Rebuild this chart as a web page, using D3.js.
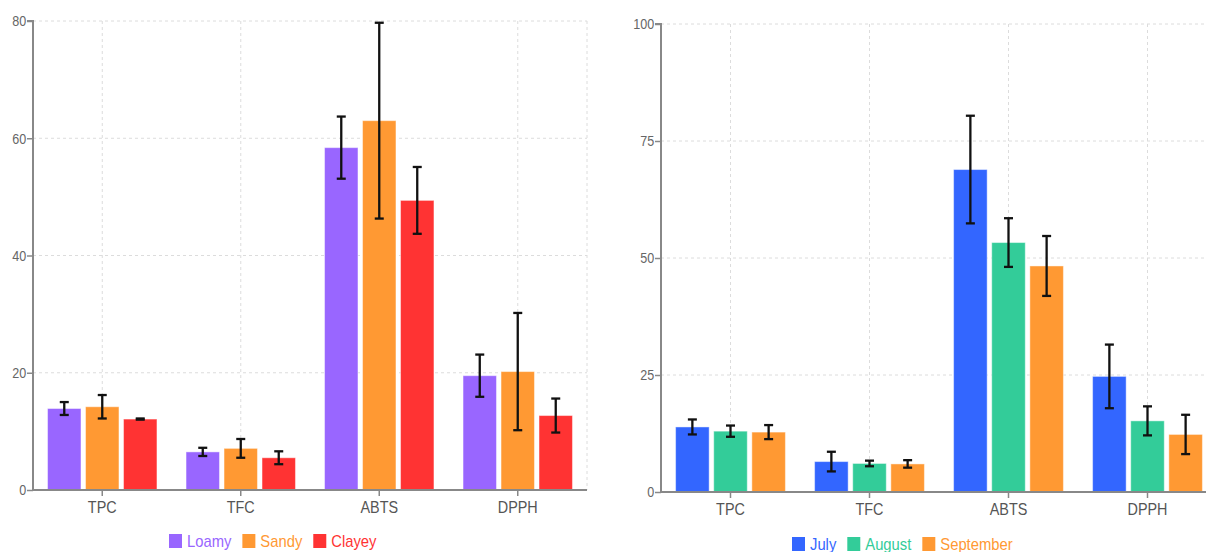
<!DOCTYPE html>
<html><head><meta charset="utf-8">
<script src="https://cdn.jsdelivr.net/npm/d3@7"></script>
<style>body{margin:0;background:#fff}svg{display:block;font-family:"Liberation Sans",Arial,sans-serif}</style>
</head><body><svg id="c" width="1206" height="552"></svg>
<script>
const categories = ["TPC","TFC","ABTS","DPPH"];

const soilSeries = ["Loamy","Sandy","Clayey"];
const soilColors = ["#9966ff","#ff9933","#ff3333"];
const loamyMean = [13.9, 6.5, 58.4, 19.5];
const loamyErr  = [1.1, 0.7, 5.3, 3.6];
const sandyMean = [14.2, 7.1, 63.0, 20.2];
const sandyErr  = [2.0, 1.6, 16.7, 10.0];
const clayeyMean = [12.1, 5.5, 49.4, 12.7];
const clayeyErr  = [0.1, 1.1, 5.7, 2.9];
const soilTicks = [0, 20, 40, 60, 80];

const monthSeries = ["July","August","September"];
const monthColors = ["#3366ff","#33cc99","#ff9933"];
const julyMean = [13.9, 6.5, 68.9, 24.7];
const julyErr  = [1.6, 2.1, 11.5, 6.8];
const augustMean = [13.0, 6.1, 53.3, 15.2];
const augustErr  = [1.2, 0.6, 5.2, 3.1];
const septemberMean = [12.8, 6.0, 48.3, 12.3];
const septemberErr  = [1.5, 0.8, 6.4, 4.2];
const monthTicks = [0, 25, 50, 75, 100];

const svg = d3.select("#c");

function drawChart(opt){
  const g = svg.append("g");
  const x0 = d3.scaleBand().domain(categories).range([opt.left, opt.right]).padding(0);
  const x1 = d3.scaleBand().domain(opt.series)
     .range([x0.bandwidth()*0.105, x0.bandwidth()*0.895]).paddingInner(0.12);
  const y = d3.scaleLinear().domain([0, opt.max]).range([opt.bottom, opt.top]);

  // grid
  const grid = g.append("g").attr("stroke","#dcdcdc").attr("stroke-dasharray","3,3").attr("stroke-width",1);
  grid.selectAll(".h").data(opt.ticks.slice(1)).join("line")
    .attr("x1",opt.left).attr("x2",opt.right).attr("y1",d=>y(d)).attr("y2",d=>y(d));
  grid.selectAll(".v").data(categories).join("line")
    .attr("x1",d=>x0(d)+x0.bandwidth()/2).attr("x2",d=>x0(d)+x0.bandwidth()/2)
    .attr("y1",opt.top).attr("y2",opt.bottom);
  grid.append("line").attr("x1",opt.right).attr("x2",opt.right).attr("y1",opt.top).attr("y2",opt.bottom);

  // bars
  const rows = [];
  categories.forEach((c,i)=>opt.series.forEach((s,j)=>rows.push({c, s, j, v:opt.means[j][i], e:opt.errs[j][i]})));
  g.append("g").selectAll("rect").data(rows).join("rect")
    .attr("x",d=>x0(d.c)+x1(d.s)).attr("width",x1.bandwidth())
    .attr("y",d=>y(d.v)).attr("height",d=>y(0)-y(d.v))
    .attr("fill",d=>opt.colors[d.j])
    .attr("stroke","rgba(255,255,255,0.45)").attr("stroke-width",1);

  // error bars
  const eb = g.append("g").attr("stroke","#111").attr("stroke-width",2.3);
  rows.forEach(d=>{
    const cx = x0(d.c)+x1(d.s)+x1.bandwidth()/2;
    eb.append("line").attr("x1",cx).attr("x2",cx).attr("y1",y(d.v+d.e)).attr("y2",y(d.v-d.e));
    [d.v+d.e, d.v-d.e].forEach(v=>eb.append("line").attr("x1",cx-4.5).attr("x2",cx+4.5).attr("y1",y(v)).attr("y2",y(v)));
  });

  // axes
  const ya = g.append("g").attr("transform",`translate(${opt.left},0)`)
    .call(d3.axisLeft(y).tickValues(opt.ticks).tickSize(6).tickPadding(2));
  ya.select(".domain").attr("stroke","#888").attr("stroke-width",2).attr("d",`M-6,${opt.top}H0V${opt.bottom}`);
  ya.selectAll(".tick line").attr("stroke","#888").attr("stroke-width",1.5);
  ya.selectAll("text").attr("fill","#666").style("font-size","15px").attr("transform","scale(0.84,1)");

  const xa = g.append("g").attr("transform",`translate(0,${opt.bottom})`)
    .call(d3.axisBottom(x0).tickSize(6).tickPadding(6));
  xa.select(".domain").attr("stroke","#888").attr("stroke-width",2).attr("d",`M${opt.left},0H${opt.right}`);
  xa.selectAll(".tick line").attr("stroke","#888").attr("stroke-width",1.5);
  xa.selectAll("text").attr("fill","#555").style("font-size","16px").attr("transform","scale(0.9,1)");

  // legend
  const lg = g.append("g").attr("transform",`translate(0,${opt.legendY})`);
  let lx = opt.legendX;
  opt.series.forEach((s,j)=>{
    lg.append("rect").attr("x",lx).attr("y",-7).attr("width",13).attr("height",14).attr("fill",opt.colors[j]);
    const sx = 0.87;
    const t = lg.append("text").attr("transform",`translate(${lx+18},6) scale(${sx},1)`).attr("fill",opt.colors[j])
      .style("font-size","17px").text(s);
    lx += 18 + t.node().getComputedTextLength()*sx + 11;
  });
}

drawChart({left:33, right:587, top:21, bottom:490, max:80, ticks:soilTicks,
  series:soilSeries, colors:soilColors,
  means:[loamyMean,sandyMean,clayeyMean], errs:[loamyErr,sandyErr,clayeyErr],
  legendX:169, legendY:541});

drawChart({left:661, right:1217, top:24, bottom:492, max:100, ticks:monthTicks,
  series:monthSeries, colors:monthColors,
  means:[julyMean,augustMean,septemberMean], errs:[julyErr,augustErr,septemberErr],
  legendX:792, legendY:544});
</script></body></html>
